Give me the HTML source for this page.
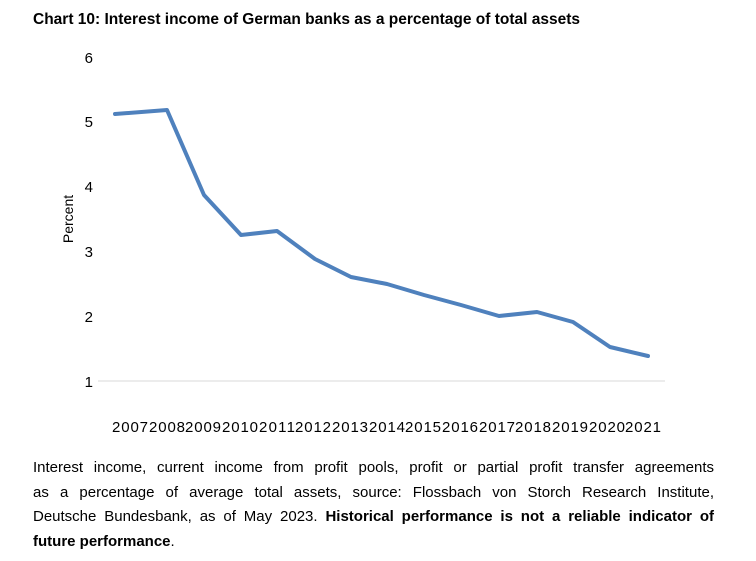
<!DOCTYPE html>
<html><head><meta charset="utf-8"><style>
body{margin:0;background:#fff;width:756px;height:561px;overflow:hidden;font-family:"Liberation Sans",sans-serif;}
.t{position:absolute;left:33px;top:11px;font-weight:bold;font-size:15.5px;color:#000;white-space:nowrap;}
.c{position:absolute;left:33px;top:456px;width:681px;font-size:15px;line-height:24.5px;color:#000;}
.c div{text-align:justify;text-align-last:justify;white-space:nowrap;}
.c div.l{text-align-last:left;}
</style></head><body>
<div class="t">Chart 10: Interest income of German banks as a percentage of total assets</div>
<svg width="756" height="561" style="position:absolute;left:0;top:0" font-family="Liberation Sans, sans-serif">
<line x1="98" y1="381" x2="665" y2="381" stroke="#d9d9d9" stroke-width="1"/>
<g font-size="15" fill="#000" text-anchor="end">
<text x="93" y="63">6</text><text x="93" y="127">5</text><text x="93" y="192">4</text>
<text x="93" y="257">3</text><text x="93" y="322">2</text><text x="93" y="387">1</text>
</g>
<text transform="translate(73,219) rotate(-90)" font-size="14" text-anchor="middle">Percent</text>
<g font-size="15" fill="#000" text-anchor="middle">
<text x="130" y="432" textLength="36">2007</text><text x="167" y="432" textLength="36">2008</text>
<text x="203" y="432" textLength="36">2009</text><text x="240" y="432" textLength="36">2010</text>
<text x="277" y="432" textLength="36">2011</text><text x="313" y="432" textLength="36">2012</text>
<text x="350" y="432" textLength="36">2013</text><text x="387" y="432" textLength="36">2014</text>
<text x="423" y="432" textLength="36">2015</text><text x="460" y="432" textLength="36">2016</text>
<text x="497" y="432" textLength="36">2017</text><text x="533" y="432" textLength="36">2018</text>
<text x="570" y="432" textLength="36">2019</text><text x="607" y="432" textLength="36">2020</text>
<text x="643" y="432" textLength="36">2021</text>
</g>
<polyline fill="none" stroke="#4f81bd" stroke-width="4" stroke-linejoin="round" stroke-linecap="round"
points="115,114 167,110 204,195 241,235 277,231 315,259 351,277 387,284 424,295 461,305 499,316 537,312 573,322 610,347 648,356"/>
</svg>
<div class="c">
<div>Interest income, current income from profit pools, profit or partial profit transfer agreements</div>
<div>as a percentage of average total assets, source: Flossbach von Storch Research Institute,</div>
<div>Deutsche Bundesbank, as of May 2023. <b>Historical performance is not a reliable indicator of</b></div>
<div class="l"><b>future performance</b>.</div>
</div>
</body></html>
